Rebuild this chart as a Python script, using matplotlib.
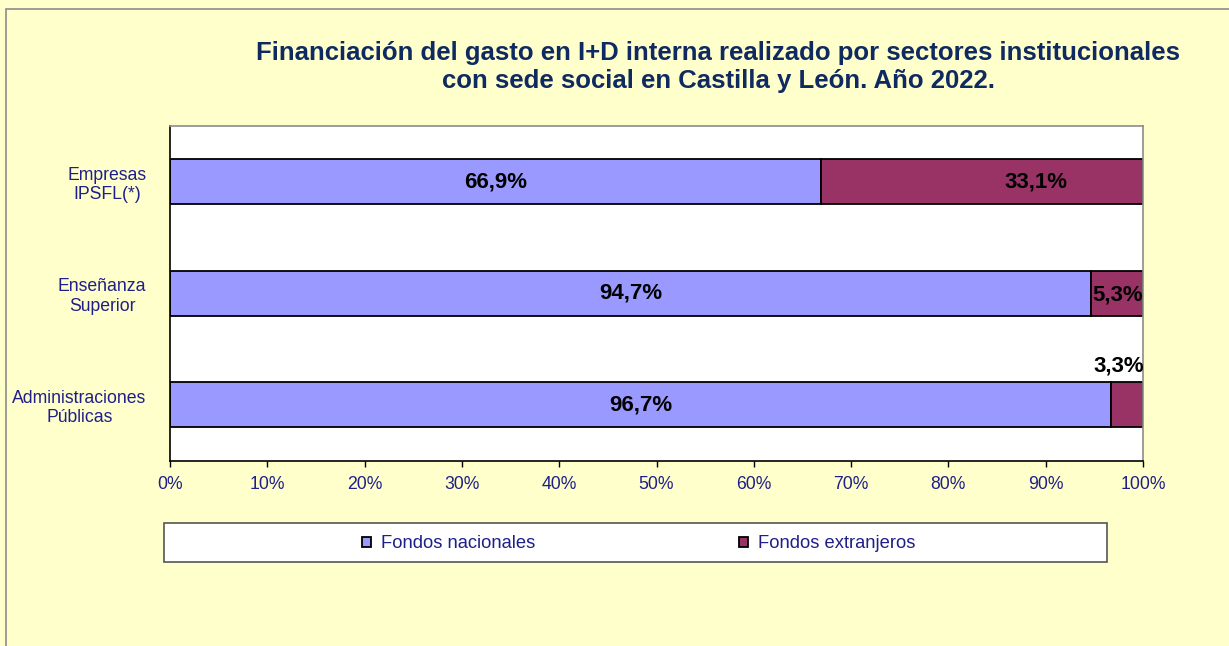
import matplotlib.pyplot as plt
from matplotlib.patches import Rectangle

plt.rcParams["font.family"] = ["Liberation Sans", "DejaVu Sans"]

# data, top to bottom as shown in the chart
sectores = ["Empresas\nIPSFL(*)", "Enseñanza\nSuperior", "Administraciones\nPúblicas"]
fondos_nacionales = [66.9, 94.7, 96.7]
fondos_extranjeros = [33.1, 5.3, 3.3]
series_names = ["Fondos nacionales", "Fondos extranjeros"]
x_ticks = [0, 10, 20, 30, 40, 50, 60, 70, 80, 90, 100]

title = ("Financiación del gasto en I+D interna realizado por sectores institucionales\n"
         "con sede social en Castilla y León. Año 2022.")

# styling
bg = "#FFFFCC"
navy = "#1F1F8A"
title_color = "#0E2A60"
c_nac = "#9999FF"
c_ext = "#993366"
# label nudges (points) for the "extranjeros" labels, as placed in the original
ext_label_offsets = [(39, 0), (0, -1), (-6, 28)]

fig = plt.figure(figsize=(12.29, 6.46), dpi=100, facecolor=bg)
W, H = 1229, 646

# outer chart border
fig.patches.append(Rectangle((6 / W, -0.1), 1.2, 1 - 9 / H + 0.1, transform=fig.transFigure,
                             facecolor="none", edgecolor="#8C8C8C", linewidth=1.2))

ax = fig.add_axes([170 / W, 1 - 460.5 / H, (1143 - 170) / W, (460.5 - 126) / H])
ax.set_facecolor("white")

ypos = list(range(len(sectores)))
bars_nac = ax.barh(ypos, fondos_nacionales, height=0.4, color=c_nac,
                   edgecolor="black", linewidth=1.3, label=series_names[0])
bars_ext = ax.barh(ypos, fondos_extranjeros, left=fondos_nacionales, height=0.4,
                   color=c_ext, edgecolor="black", linewidth=1.3, label=series_names[1])

ax.set_xlim(0, 100)
ax.set_ylim(-0.5, len(sectores) - 0.5)
ax.invert_yaxis()

def fmt(v):
    return f"{v:.1f}%".replace(".", ",")

for i, v in enumerate(fondos_nacionales):
    ax.text(v / 2, i, fmt(v), ha="center", va="center", fontsize=16,
            fontweight="bold", color="black")
for i, v in enumerate(fondos_extranjeros):
    x = fondos_nacionales[i] + v / 2
    ax.annotate(fmt(v), xy=(x, i), xytext=ext_label_offsets[i], textcoords="offset points",
                ha="center", va="center", fontsize=16, fontweight="bold", color="black")

ax.set_xticks(x_ticks)
ax.set_xticklabels([f"{t}%" for t in x_ticks])
ax.set_yticks(ypos)
ax.set_yticklabels(sectores)
ax.tick_params(axis="x", direction="out", length=4, width=1, colors="black",
               labelcolor=navy, labelsize=12.7, pad=7)
ax.tick_params(axis="y", length=0, labelcolor=navy, labelsize=12.7, pad=17)
for lbl in ax.get_yticklabels():
    lbl.set_multialignment("center")

for side in ["left", "bottom"]:
    ax.spines[side].set_color("black")
    ax.spines[side].set_linewidth(1.2)
for side in ["top", "right"]:
    ax.spines[side].set_color("#8C8C8C")
    ax.spines[side].set_linewidth(1.2)

fig.text(718 / W, 1 - 41 / H, title, ha="center", va="top", fontsize=18.5,
         fontweight="bold", color=title_color, linespacing=1.22)

# legend box
fig.patches.append(Rectangle((164 / W, 1 - 562 / H), (1107 - 164) / W, (562 - 523) / H,
                             transform=fig.transFigure, facecolor="white",
                             edgecolor="#555555", linewidth=1.2, zorder=1))
leg = fig.legend(handles=[bars_nac, bars_ext], labels=series_names, ncol=2,
                 loc="center", bbox_to_anchor=(638.5 / W, 1 - 544 / H), frameon=False,
                 fontsize=13.2, handlelength=0.5, handleheight=0.5, handletextpad=0.55,
                 columnspacing=11.1)
for t in leg.get_texts():
    t.set_color(navy)
leg.set_zorder(3)

fig.savefig("out.png", dpi=100, facecolor=bg)
